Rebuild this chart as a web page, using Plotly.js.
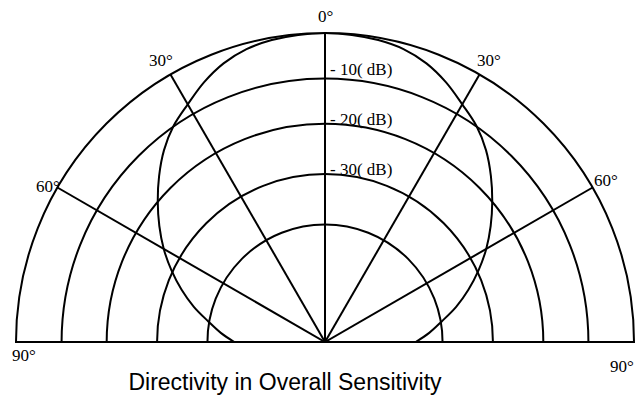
<!DOCTYPE html>
<html>
<head>
<meta charset="utf-8">
<script src="https://cdn.plot.ly/plotly-3.0.1.min.js"></script>
<style>html,body{margin:0;padding:0;background:#fff;}#chart{width:636px;height:403px;}</style>
</head>
<body>
<div id="chart"></div>
<script>
// Directivity pattern (angle in degrees, level in dB relative to on-axis)
const angles = [-90,-85,-80,-75,-70,-65,-60,-55,-50,-45,-40,-35,-30,-25,-20,-15,-10,-5,0,5,10,15,20,25,30,35,40,45,50,55,60,65,70,75,80,85,90];
const levels = [-45.5,-42.6,-39.7,-36.1,-32.6,-29.1,-25.6,-22.25,-18.9,-15.5,-12.2,-9.4,-7.2,-4.7,-2.6,-1.2,-0.5,-0.15,0,-0.15,-0.5,-1.2,-2.6,-4.7,-7.2,-9.4,-12.2,-15.5,-18.9,-22.25,-25.6,-29.1,-32.6,-36.1,-39.7,-42.6,-45.5];

// grid rings (dB positions as drawn) and spokes
const ringLevels = [-9.5, -18.9, -29.4, -39.9];
const spokeAngles = [-90, -60, -30, 0, 30, 60, 90];
const rMin = -64.4, rMax = 0;

// labels
const angleLabels = ["0°", "30°", "30°", "60°", "60°", "90°", "90°"];
const levelLabels = ["- 10( dB)", "- 20( dB)", "- 30( dB)"];
const titleText = "Directivity in Overall Sensitivity";

const W = 636, H = 403;
const px = x => x / W, py = y => 1 - y / H;

// label placement (pixels)
const angleLabelPos = [[325,17],[160.5,61],[489,61],[48,186],[606,180],[23.5,355],[622,366]];
const levelLabelPos = [[328,70],[328,120],[328,169]];

const serif = {family: "Liberation Serif, Times New Roman, serif", size: 17, color: "#000"};

const annotations = [];
angleLabels.forEach((t, i) => annotations.push({
  text: t, xref: "paper", yref: "paper",
  x: px(angleLabelPos[i][0]), y: py(angleLabelPos[i][1]),
  xanchor: "center", yanchor: "middle", showarrow: false, font: serif
}));
levelLabels.forEach((t, i) => annotations.push({
  text: t, xref: "paper", yref: "paper",
  x: px(levelLabelPos[i][0]), y: py(levelLabelPos[i][1]),
  xanchor: "left", yanchor: "middle", showarrow: false, font: serif
}));

// spokes as one trace with gaps
const spokeR = [], spokeT = [];
spokeAngles.forEach(a => { spokeR.push(rMin, rMax, null); spokeT.push(a, a, null); });

const traces = [{
  type: "scatterpolar",
  r: spokeR, theta: spokeT,
  mode: "lines", connectgaps: false,
  line: {color: "#000", width: 2},
  hoverinfo: "skip", showlegend: false
}, {
  type: "scatterpolar",
  r: levels, theta: angles,
  mode: "lines",
  line: {color: "#000", width: 2, shape: "spline", smoothing: 1},
  hoverinfo: "skip", showlegend: false
}];

const layout = {
  width: W, height: H,
  margin: {l: 0, r: 0, t: 0, b: 0, pad: 0},
  paper_bgcolor: "#fff",
  showlegend: false,
  title: {
    text: titleText,
    font: {family: "Liberation Sans, Arial, sans-serif", size: 23, color: "#000"},
    x: px(285), xanchor: "center",
    y: py(382), yanchor: "middle"
  },
  polar: {
    domain: {x: [16/W, 634/W], y: [(H-342)/H, (H-33)/H]},
    sector: [0, 180],
    bgcolor: "#fff",
    radialaxis: {
      range: [rMin, rMax],
      tickvals: ringLevels,
      showticklabels: false,
      ticks: "",
      showline: false,
      gridcolor: "#000",
      gridwidth: 2
    },
    angularaxis: {
      rotation: 90,
      direction: "clockwise",
      showgrid: false,
      showticklabels: false,
      ticks: "",
      showline: true,
      linecolor: "#000",
      linewidth: 2
    }
  },
  annotations: annotations
};

Plotly.newPlot("chart", traces, layout, {displayModeBar: false, staticPlot: true});
</script>
</body>
</html>
